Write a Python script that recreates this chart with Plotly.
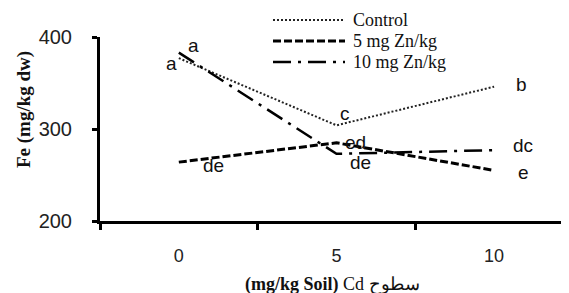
import plotly.graph_objects as go

# ---- data ----
cd_levels = ["0", "5", "10"]
series_names = ["Control", "5 mg Zn/kg", "10 mg Zn/kg"]
control = [377, 304, 346]
zn5 = [264, 285, 255]
zn10 = [383, 273, 277]
control_letters = ["a", "c", "b"]
zn5_letters = ["de", "ed", "e"]
zn10_letters = ["a", "de", "dc"]
y_ticks = [200, 300, 400]

# ---- styles ----
styles = [
    dict(color="#222222", width=2, dash="2px,2px"),
    dict(color="#000000", width=3, dash="8px,3px"),
    dict(color="#000000", width=2.5, dash="18px,7px,3px,7px"),
]
label_offsets = [
    [(-7, -5), (9, 12), (27, 2)],
    [(35, -3), (19, 0), (29, -2)],
    [(15, 7), (24, -9), (29, 5)],
]

fig = go.Figure()
all_vals = [control, zn5, zn10]
all_letters = [control_letters, zn5_letters, zn10_letters]
for name, vals, st in zip(series_names, all_vals, styles):
    fig.add_trace(go.Scatter(x=cd_levels, y=vals, mode="lines", name=name,
                             line=st, showlegend=False))

annotations = []
for vals, letters, offs in zip(all_vals, all_letters, label_offsets):
    for i, (v, t, (dx, dy)) in enumerate(zip(vals, letters, offs)):
        annotations.append(dict(x=i, y=v, xref="x", yref="y", text=t,
                                showarrow=False, xshift=dx, yshift=dy,
                                font=dict(family="Liberation Sans", size=19, color="#111")))

# page has an 8px body margin; plot area in window pixels: x 100..569, y 37..221
plot_left, plot_w, plot_bottom, plot_h = 100, 469, 221, 184
def px_x(p):
    return (p - plot_left) / plot_w
def px_y(p):
    return (plot_bottom - p) / plot_h

shapes = []
rows = [20, 41, 62]
for name, st, ry in zip(series_names, styles, rows):
    shapes.append(dict(type="line", xref="paper", yref="paper",
                       x0=px_x(273), x1=px_x(345), y0=px_y(ry), y1=px_y(ry),
                       line=st))
    annotations.append(dict(x=px_x(351), y=px_y(ry), xref="paper", yref="paper",
                            text=name, showarrow=False, xanchor="left", yanchor="middle",
                            font=dict(family="Liberation Serif", size=18, color="#111")))

annotations.append(dict(x=px_x(332), y=px_y(284), xref="paper", yref="paper",
                        text="<b>(mg/kg Soil)</b> Cd سطوح", showarrow=False,
                        xanchor="center", yanchor="middle",
                        font=dict(family="Liberation Serif", size=18, color="#111")))
annotations.append(dict(x=px_x(24), y=px_y(110), xref="paper", yref="paper",
                        text="<b>Fe (mg/kg dw)</b>", showarrow=False, textangle=-90,
                        xanchor="center", yanchor="middle",
                        font=dict(family="Liberation Serif", size=19, color="#111")))

fig.update_layout(
    width=561, height=285,
    margin=dict(l=92, r=0, t=29, b=72),
    paper_bgcolor="white", plot_bgcolor="white",
    shapes=shapes, annotations=annotations,
    xaxis=dict(type="category", range=[-0.5, 2.475], tickson="boundaries",
               ticks="outside", ticklen=6, tickwidth=2.5, tickcolor="black",
               showline=True, linewidth=3, linecolor="black", showgrid=False,
               ticklabelstandoff=16,
               tickfont=dict(family="Liberation Sans", size=18, color="#222")),
    yaxis=dict(range=[200, 400], tickvals=y_ticks, ticks="outside", ticklen=5,
               tickwidth=2.5, tickcolor="black", showline=True, linewidth=3,
               linecolor="black", showgrid=False, zeroline=False,
               ticklabelstandoff=16,
               tickfont=dict(family="Liberation Sans", size=20, color="#222")),
)

fig.write_html("out.html")
